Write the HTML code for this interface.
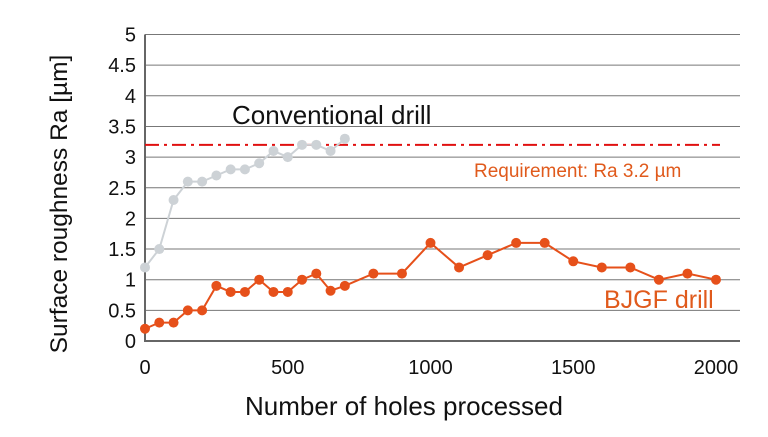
<!DOCTYPE html>
<html><head><meta charset="utf-8"><style>
body{margin:0;background:#fff;width:768px;height:432px;overflow:hidden}
svg text{font-family:"Liberation Sans",sans-serif}
</style></head><body>
<svg id="chart" width="768" height="432" xmlns="http://www.w3.org/2000/svg">
<g id="grid"></g><g id="axes"></g><g id="series"></g>
<text transform="translate(67,204) rotate(-90)" text-anchor="middle" font-size="24.5" fill="#111">Surface roughness Ra [µm]</text>
<text x="404" y="415" text-anchor="middle" font-size="26" fill="#111">Number of holes processed</text>
<text x="232" y="124" font-size="26" fill="#111">Conventional drill</text>
<text x="474" y="177" font-size="19" fill="#e05a1c">Requirement: Ra 3.2 µm</text>
<text x="604" y="308" font-size="25" fill="#e05a1c">BJGF drill</text>
</svg>
<script>
const yTicks=[0,0.5,1,1.5,2,2.5,3,3.5,4,4.5,5];
const yTickLabels=["0","0.5","1","1.5","2","2.5","3","3.5","4","4.5","5"];
const xTicks=[0,500,1000,1500,2000];
const convX=[0,50,100,150,200,250,300,350,400,450,500,550,600,650,700];
const convY=[1.2,1.5,2.3,2.6,2.6,2.7,2.8,2.8,2.9,3.1,3.0,3.2,3.2,3.1,3.3];
const bjgfX=[0,50,100,150,200,250,300,350,400,450,500,550,600,650,700,800,900,1000,1100,1200,1300,1400,1500,1600,1700,1800,1900,2000];
const bjgfY=[0.2,0.3,0.3,0.5,0.5,0.9,0.8,0.8,1.0,0.8,0.8,1.0,1.1,0.82,0.9,1.1,1.1,1.6,1.2,1.4,1.6,1.6,1.3,1.2,1.2,1.0,1.1,1.0];
const requirement=[3.2];
const NS="http://www.w3.org/2000/svg";
const X=v=>145+v*0.2855, Y=v=>341-v*61.3;
function mk(tag,attrs,parent){const e=document.createElementNS(NS,tag);for(const k in attrs)e.setAttribute(k,attrs[k]);document.getElementById(parent).appendChild(e);return e;}
yTicks.forEach((t,i)=>{
 if(t>0){const l=mk('line',{x1:145,x2:740,y1:Y(t),y2:Y(t),stroke:'#777','stroke-width':1},'grid');
 
 }
 const tx=mk('text',{x:136,y:Y(t)+7,'text-anchor':'end','font-size':20,fill:'#111'},'axes');tx.textContent=yTickLabels[i];
 
 
});
xTicks.forEach(t=>{const tx=mk('text',{x:X(t),y:374,'text-anchor':'middle','font-size':20,fill:'#111'},'axes');tx.textContent=t;
 
 });
const ax=mk('path',{d:`M145,${Y(5)}V341H740`,fill:'none',stroke:'#666','stroke-width':2},'axes');


const rq=mk('line',{x1:145,x2:720,y1:Y(requirement[0]),y2:Y(requirement[0]),stroke:'#e01010','stroke-width':2,'stroke-dasharray':'14,5,3,5'},'series');


function series(xs,ys,color,name){
 const p=mk('polyline',{points:xs.map((x,i)=>X(x)+','+Y(ys[i])).join(' '),fill:'none',stroke:color,'stroke-width':2},'series');
 
 
 xs.forEach((x,i)=>{const c=mk('circle',{cx:X(x),cy:Y(ys[i]),r:5,fill:color},'series');
 
 });
}
series(convX,convY,'#cdd2d6','conventional');
series(bjgfX,bjgfY,'#e6501a','bjgf');
</script>
</body></html>
